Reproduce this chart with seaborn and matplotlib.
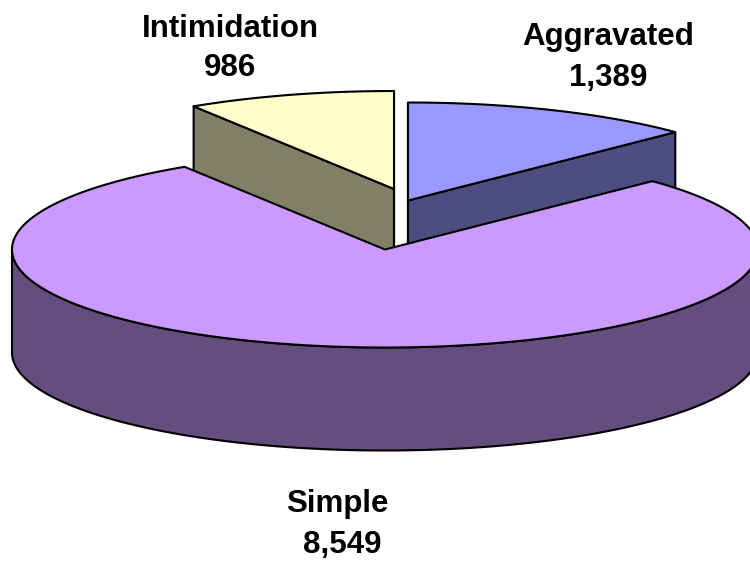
import numpy as np
import seaborn as sns
import matplotlib
matplotlib.use("Agg")
import matplotlib.pyplot as plt
from matplotlib.patches import Polygon

# offense counts
labels = ["Aggravated", "Simple", "Intimidation"]
counts = [1389, 8549, 986]

top_colors = ["#9999FF", "#CC99FF", "#FFFFCC"]
side_colors = ["#4D4D80", "#664D80", "#808066"]

sns.set_theme(style="white")
plt.rcParams["font.family"] = ["Liberation Sans", "DejaVu Sans"]

# pie geometry, in pixels of the 750x562 canvas
RX = 373
RY = 98
DEPTH = 103
# where the apex of each slice sits after exploding it
apex = [(408, 200.5), (385, 249.5), (394, 189)]
name_pos = [(608, 37), (337, 504), (230, 29)]
value_pos = [(608, 78), (342, 545), (230, 68)]


# arc_points gives the rim of the ellipse between two angles (degrees)
def arc_points(cx, cy, a0, a1):
    t = np.radians(np.linspace(a0, a1, 300))
    return np.column_stack([cx + RX * np.cos(t), cy - RY * np.sin(t)])


# walk clockwise from 12 o'clock, so every slice angle comes from the counts
sweeps = np.array(counts) / sum(counts) * 360
ends = 90 - np.cumsum(sweeps)
starts = ends + sweeps

fig = plt.figure(figsize=(7.5, 5.62), dpi=100)
ax = fig.add_axes([0, 0, 1, 1])
ax.set_xlim(0, 750)
ax.set_ylim(562, 0)
ax.axis("off")

edge = dict(edgecolor="black", linewidth=1.5, joinstyle="round")


# draw_slice draws the walls first and then the top face
def draw_slice(i, z):
    cx, cy = apex[i]
    a0, a1 = starts[i], ends[i]
    rim = arc_points(cx, cy, a0, a1)
    down = np.array([0, DEPTH])
    centre = np.array([cx, cy])

    # radial cut faces, the big slice has its cuts facing away
    if sweeps[i] < 180:
        for p in (rim[0], rim[-1]):
            face = [centre, p, p + down, centre + down]
            ax.add_patch(Polygon(face, closed=True, facecolor=side_colors[i], zorder=z, **edge))

    # outer wall, only the lower half of the rim faces the viewer
    lo, hi = max(a1, -180), min(a0, 0)
    if hi > lo:
        front = arc_points(cx, cy, lo, hi)
        wall = np.vstack([front, front[::-1] + down])
        ax.add_patch(Polygon(wall, closed=True, facecolor=side_colors[i], zorder=z, **edge))

    top = np.vstack([centre, rim])
    ax.add_patch(Polygon(top, closed=True, facecolor=top_colors[i], zorder=z + 0.5, **edge))


# back slices first, the big one covers their lower parts
draw_slice(0, 1)
draw_slice(2, 2)
draw_slice(1, 3)

for name, value, np_xy, vp_xy in zip(labels, counts, name_pos, value_pos):
    ax.text(np_xy[0], np_xy[1], name, ha="center", va="center", fontsize=22.5,
            fontweight="bold", color="black")
    ax.text(vp_xy[0], vp_xy[1], f"{value:,}", ha="center", va="center", fontsize=22.5,
            fontweight="bold", color="black")

fig.savefig("out.png", dpi=100)
